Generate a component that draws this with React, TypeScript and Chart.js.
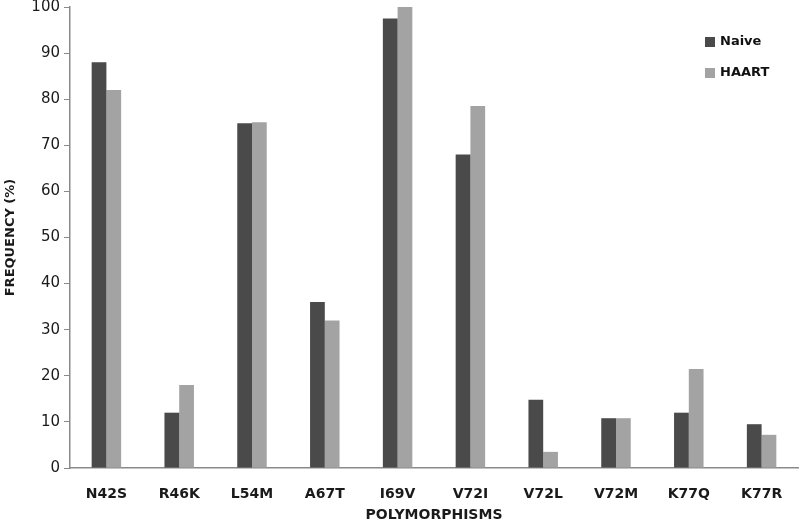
import React, { useEffect, useRef } from "react";
import { Chart, registerables } from "chart.js";

Chart.register(...registerables);

const categories = ["N42S", "R46K", "L54M", "A67T", "I69V", "V72I", "V72L", "V72M", "K77Q", "K77R"];
const naive = [88, 12, 74.8, 36, 97.5, 68, 14.8, 10.8, 12, 9.5];
const haart = [82, 18, 75, 32, 100, 78.5, 3.5, 10.8, 21.5, 7.2];
const yTicks = [0, 10, 20, 30, 40, 50, 60, 70, 80, 90, 100];

const legendPlugin = {
  id: "cornerLegend",
  afterDraw(chart: any) {
    const ctx = chart.ctx;
    ctx.save();
    ctx.font = "bold 13px 'DejaVu Sans'";
    ctx.textBaseline = "middle";
    chart.data.datasets.forEach((ds: any, i: number) => {
      const y = 42 + i * 31;
      ctx.fillStyle = ds.backgroundColor;
      ctx.fillRect(705, y - 5, 10, 10);
      ctx.fillStyle = "#111";
      ctx.fillText(ds.label, 720, y);
    });
    ctx.restore();
  },
};

export default function App() {
  const ref = useRef<HTMLCanvasElement>(null);
  useEffect(() => {
    document.body.style.margin = "0";
    const chart = new Chart(ref.current!, {
      type: "bar",
      data: {
        labels: categories,
        datasets: [
          { label: "Naive", data: naive, backgroundColor: "#4a4a4a" },
          { label: "HAART", data: haart, backgroundColor: "#a3a3a3" },
        ],
      },
      plugins: [legendPlugin],
      options: {
        animation: false,
        responsive: false,
        maintainAspectRatio: false,
        layout: { padding: { top: 7, right: 2, left: 0, bottom: 0 } },
        plugins: { legend: { display: false }, tooltip: { enabled: false } },
        datasets: { bar: { categoryPercentage: 0.405, barPercentage: 1.0 } },
        scales: {
          x: {
            grid: { display: false },
            border: { display: true, color: "#8a8a8a", width: 1.5 },
            ticks: { color: "#1a1a1a", font: { family: "'DejaVu Sans'", size: 14, weight: "bold" }, padding: 10, maxRotation: 0 },
            title: { display: true, text: "POLYMORPHISMS", color: "#1a1a1a", font: { family: "'DejaVu Sans'", size: 14, weight: "bold" }, padding: { top: 3, bottom: 0 } },
            afterFit: (s: any) => { s.height = 56; s.paddingLeft = 0; s.paddingRight = 0; },
          },
          y: {
            min: 0,
            max: 100,
            afterBuildTicks: (s: any) => { s.ticks = yTicks.map((v) => ({ value: v })); },
            grid: { drawOnChartArea: false, drawTicks: true, tickLength: 6, color: "#8a8a8a" },
            border: { display: true, color: "#8a8a8a", width: 1.5 },
            ticks: { color: "#1a1a1a", font: { family: "'DejaVu Sans'", size: 15 }, padding: 4 },
            title: { display: true, text: "FREQUENCY (%)", color: "#1a1a1a", font: { family: "'DejaVu Sans'", size: 13, weight: "bold" }, padding: { top: 3, bottom: 3 } },
            afterFit: (s: any) => { s.width = 70; s.paddingTop = 0; s.paddingBottom = 0; },
          },
        },
      },
    });
    return () => chart.destroy();
  }, []);
  return (
    <div style={{ width: 800, height: 524 }}>
      <canvas ref={ref} width={800} height={524} style={{ width: 800, height: 524 }} />
    </div>
  );
}
